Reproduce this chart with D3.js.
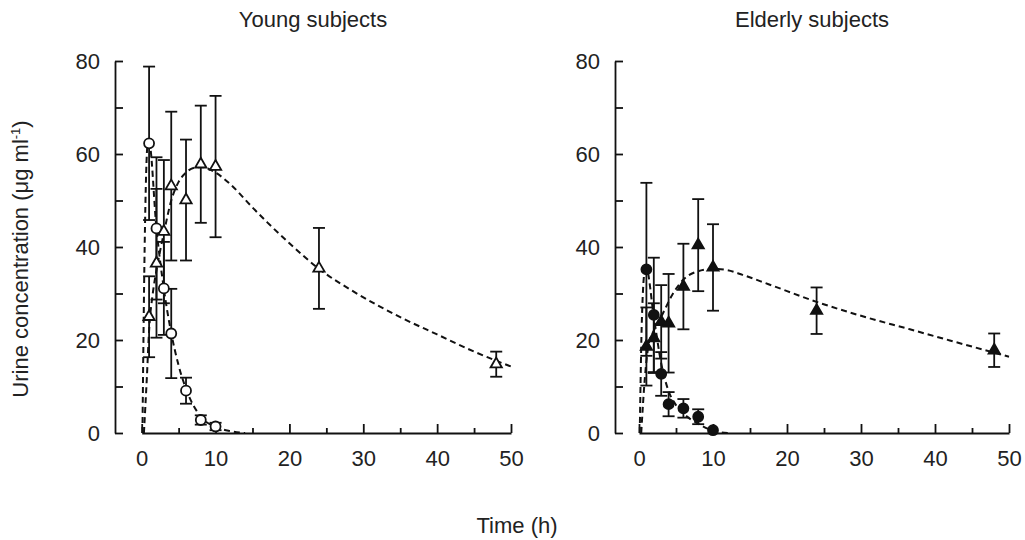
<!DOCTYPE html>
<html lang="en">
<head>
<meta charset="UTF-8">
<title>Urine concentration</title>
<script src="https://d3js.org/d3.v7.min.js"></script>
<style>
    body { margin: 0; background: #fff; }
    text { font-family: "Liberation Sans", Arial, Helvetica, sans-serif; fill: #222; }
    .axis path, .axis line { stroke: #111; stroke-width: 1.8; }
    .axis text { font-size: 22px; fill: #222; }
    .fit { fill: none; stroke: #111; stroke-width: 2; stroke-dasharray: 6,4; }
    .err { stroke: #111; stroke-width: 1.8; }
</style>
</head>
<body>
<div id="chart"></div>
<script>
// sampling times (h)
const times = [1, 2, 3, 4, 6, 8, 10, 24, 48];
const timesShort = [1, 2, 3, 4, 6, 8, 10];

// young subjects
const youngTri = [25, 36.5, 43.3, 53.1, 50.1, 57.8, 57.3, 35.4, 14.8];
const youngTriSd = [8.7, 16, 15.4, 16, 13, 12.6, 15.2, 8.7, 2.7];
const youngCirc = [62.3, 44, 31.1, 21.4, 9.1, 2.8, 1.4];
const youngCircSd = [16.5, 15.3, 10, 9.6, 2.8, 1, 0.8];

// elderly subjects
const elderTri = [18.6, 20.4, 23.9, 23.6, 31.5, 40.4, 35.6, 26.3, 17.8];
const elderTriSd = [8.4, 7.5, 7.9, 10.6, 9.2, 9.9, 9.3, 5, 3.6];
const elderCirc = [35.2, 25.4, 12.7, 6.2, 5.3, 3.5, 0.6];
const elderCircSd = [18.6, 12.3, 4.7, 2.6, 2, 1.6, 0.5];

// fitted curves
const youngTriFitT = [0.3, 0.7, 1, 1.5, 2, 3, 4, 5, 6, 7, 8, 10, 12, 15, 17, 20, 24, 28.6, 35.4, 40, 45, 50];
const youngTriFitV = [0, 12, 22, 30, 35, 43, 50, 54, 56, 57, 57.2, 56, 53.5, 48.5, 45.3, 40.8, 35.3, 30.5, 24.6, 21.2, 17.5, 14.3];
const youngCircFitT = [0.1, 0.4, 0.8, 1, 2, 3, 4, 5, 6, 8, 10, 12, 14];
const youngCircFitV = [0, 40, 62, 62.5, 44, 31, 21.5, 14.5, 9.5, 3.5, 1.3, 0.4, 0];
const elderTriFitT = [0.3, 0.8, 1.3, 2, 3, 4.6, 6, 8, 10, 12, 14, 17.5, 24, 30, 36.6, 42, 50];
const elderTriFitV = [0, 12, 19, 22, 25, 30, 33, 34.8, 35.3, 35, 34, 32, 28.2, 25.2, 22.3, 19.9, 16.4];
const elderCircFitT = [0.1, 0.4, 0.8, 1, 2, 3, 4, 5, 6, 8, 10, 12];
const elderCircFitV = [0, 25, 35, 35.3, 25, 15, 9, 6, 4.2, 2, 0.5, 0];

const xTicks = [0, 10, 20, 30, 40, 50];
const xMinor = [5, 15, 25, 35, 45];
const yTicks = [0, 20, 40, 60, 80];
const yMinor = [10, 30, 50, 70];

const width = 1025, height = 540;
const svg = d3.select("#chart").append("svg")
    .attr("width", width)
    .attr("height", height);

const y = d3.scaleLinear().domain([0, 80]).range([433, 61]);

function zip(ts, vs, sds) {
    return ts.map((t, i) => ({ t: t, v: vs[i], sd: sds ? sds[i] : 0 }));
}

const panels = [
    {
        title: "Young subjects", x0: 141.7, x1: 511, yAxisX: 115, filled: false,
        tri: zip(times, youngTri, youngTriSd), circ: zip(timesShort, youngCirc, youngCircSd),
        triFit: zip(youngTriFitT, youngTriFitV), circFit: zip(youngCircFitT, youngCircFitV)
    },
    {
        title: "Elderly subjects", x0: 639, x1: 1009, yAxisX: 615, filled: true,
        tri: zip(times, elderTri, elderTriSd), circ: zip(timesShort, elderCirc, elderCircSd),
        triFit: zip(elderTriFitT, elderTriFitV), circFit: zip(elderCircFitT, elderCircFitV)
    }
];

panels.forEach(p => {
    const x = d3.scaleLinear().domain([0, 50]).range([p.x0, p.x1]);
    const g = svg.append("g");

    // y axis (detached from x axis), ticks pointing inward
    g.append("g")
        .attr("class", "axis")
        .attr("transform", `translate(${p.yAxisX},0)`)
        .call(d3.axisLeft(y).tickValues(yTicks).tickSizeInner(-8).tickSizeOuter(0).tickPadding(15));
    g.append("g")
        .attr("class", "axis")
        .attr("transform", `translate(${p.yAxisX},0)`)
        .call(d3.axisLeft(y).tickValues(yMinor).tickSizeInner(-8).tickSizeOuter(0).tickFormat(""))
        .select(".domain").remove();

    // x axis
    g.append("g")
        .attr("class", "axis")
        .attr("transform", "translate(0,433)")
        .call(d3.axisBottom(x).tickValues(xTicks).tickSizeInner(-9).tickSizeOuter(0).tickPadding(17));
    g.append("g")
        .attr("class", "axis")
        .attr("transform", "translate(0,433)")
        .call(d3.axisBottom(x).tickValues(xMinor).tickSizeInner(-5).tickSizeOuter(0).tickFormat(""))
        .select(".domain").remove();

    // panel title
    g.append("text")
        .attr("x", (p.yAxisX + p.x1) / 2)
        .attr("y", 27)
        .attr("text-anchor", "middle")
        .style("font-size", "22px")
        .text(p.title);

    // fitted curves
    const line = d3.line()
        .x(d => x(d.t))
        .y(d => y(d.v))
        .curve(d3.curveMonotoneX);
    g.append("path").attr("class", "fit").attr("d", line(p.triFit));
    g.append("path").attr("class", "fit").attr("d", line(p.circFit));

    // error bars
    const all = p.tri.concat(p.circ);
    const eb = g.append("g");
    eb.selectAll(".v").data(all).enter().append("line")
        .attr("class", "err")
        .attr("x1", d => x(d.t)).attr("x2", d => x(d.t))
        .attr("y1", d => y(d.v + d.sd)).attr("y2", d => y(Math.max(0, d.v - d.sd)));
    eb.selectAll(".top").data(all.filter(d => d.sd > 0.7)).enter().append("line")
        .attr("class", "err")
        .attr("x1", d => x(d.t) - 6).attr("x2", d => x(d.t) + 6)
        .attr("y1", d => y(d.v + d.sd)).attr("y2", d => y(d.v + d.sd));
    eb.selectAll(".bot").data(all.filter(d => d.sd > 0.7)).enter().append("line")
        .attr("class", "err")
        .attr("x1", d => x(d.t) - 6).attr("x2", d => x(d.t) + 6)
        .attr("y1", d => y(d.v - d.sd)).attr("y2", d => y(d.v - d.sd));

    // markers
    const fill = p.filled ? "#111" : "#fff";
    g.selectAll(".circ").data(p.circ).enter().append("circle")
        .attr("cx", d => x(d.t))
        .attr("cy", d => y(d.v))
        .attr("r", 5)
        .attr("fill", fill)
        .attr("stroke", "#111")
        .attr("stroke-width", 1.8);
    g.selectAll(".tri").data(p.tri).enter().append("path")
        .attr("d", d3.symbol(d3.symbolTriangle, 55))
        .attr("transform", d => `translate(${x(d.t)},${y(d.v)})`)
        .attr("fill", fill)
        .attr("stroke", "#111")
        .attr("stroke-width", 1.8);
});

// shared axis labels
svg.append("text")
    .attr("x", 517)
    .attr("y", 533)
    .attr("text-anchor", "middle")
    .style("font-size", "22px")
    .text("Time (h)");

const yl = svg.append("text")
    .attr("transform", "translate(28,259) rotate(-90)")
    .attr("text-anchor", "middle")
    .style("font-size", "22px");
yl.append("tspan").text("Urine concentration (μg ml");
yl.append("tspan").attr("dy", -8).style("font-size", "13px").text("-1");
yl.append("tspan").attr("dy", 8).text(")");
</script>
</body>
</html>
